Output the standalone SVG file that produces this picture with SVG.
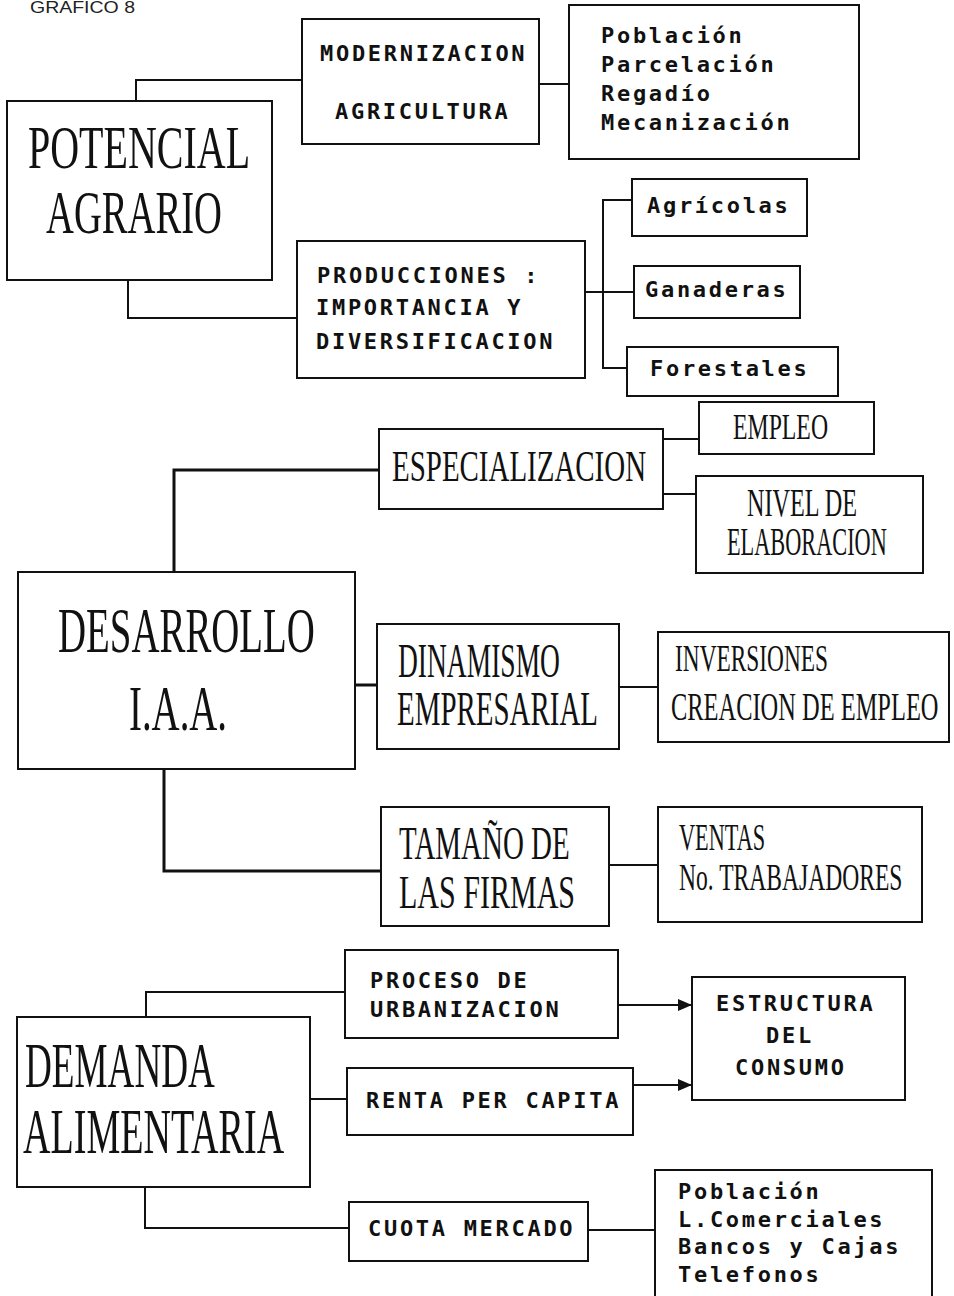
<svg xmlns="http://www.w3.org/2000/svg" width="954" height="1296" viewBox="0 0 954 1296">
<defs>
<style>
.bx{fill:#fff;stroke:#111;stroke-width:2}
.cn{fill:none;stroke:#111;stroke-width:2}
.thk{stroke-width:3}
.sf{font-family:"Liberation Serif","Times New Roman",serif;fill:#111}
.mo{font-family:"DejaVu Sans Mono","Liberation Mono",monospace;font-weight:bold;font-size:22px;letter-spacing:2.7px;fill:#111}
.hd{font-family:"Liberation Sans",Arial,sans-serif;font-size:16px;fill:#222}
</style>
<marker id="ah" markerWidth="14" markerHeight="12" refX="14" refY="6" orient="auto" markerUnits="userSpaceOnUse">
<path d="M0,0 L14,6 L0,12 Z" fill="#111"/>
</marker>
</defs>
<rect width="954" height="1296" fill="#fff"/>
<text class="hd" x="30" y="13" textLength="105" lengthAdjust="spacingAndGlyphs">GRAFICO 8</text>

<g id="connectors">
<path class="cn" d="M136,101 V80 H302"/>
<path class="cn" d="M539,84 H569"/>
<path class="cn" d="M128,280 V318 H297"/>
<path class="cn" d="M585,292 H634"/>
<path class="cn" d="M632,200 H603 V368 H627"/>
<path class="cn thk" d="M174,572 V470 H379"/>
<path class="cn" d="M663,439 H699"/>
<path class="cn" d="M663,494 H696"/>
<path class="cn thk" d="M355,685 H377"/>
<path class="cn" d="M619,687 H658"/>
<path class="cn thk" d="M164,769 V871 H381"/>
<path class="cn" d="M609,865 H658"/>
<path class="cn" d="M146,1017 V992 H345"/>
<path class="cn" d="M310,1099 H347"/>
<path class="cn" d="M145,1187 V1228 H349"/>
<path class="cn" d="M618,1005 H692" marker-end="url(#ah)"/>
<path class="cn" d="M633,1085 H692" marker-end="url(#ah)"/>
<path class="cn" d="M588,1230 H655"/>
</g>

<g id="potencial">
<rect class="bx" x="7" y="101" width="265" height="179"/>
<text class="sf" font-size="62" transform="translate(28,168) scale(0.645,1)">POTENCIAL</text>
<text class="sf" font-size="62" transform="translate(46,233) scale(0.623,1)">AGRARIO</text>
</g>
<g id="modernizacion">
<rect class="bx" x="302" y="19" width="237" height="125"/>
<text class="mo" x="320" y="61">MODERNIZACION</text>
<text class="mo" x="335" y="119">AGRICULTURA</text>
</g>
<g id="factores-agr">
<rect class="bx" x="569" y="5" width="290" height="154"/>
<text class="mo" x="601" y="43">Población</text>
<text class="mo" x="601" y="72">Parcelación</text>
<text class="mo" x="601" y="101">Regadío</text>
<text class="mo" x="601" y="130">Mecanización</text>
</g>
<g id="producciones">
<rect class="bx" x="297" y="241" width="288" height="137"/>
<text class="mo" x="317" y="283">PRODUCCIONES :</text>
<text class="mo" x="316" y="315">IMPORTANCIA Y</text>
<text class="mo" x="316" y="349">DIVERSIFICACION</text>
</g>
<g id="agricolas">
<rect class="bx" x="632" y="179" width="175" height="57"/>
<text class="mo" x="647" y="213">Agrícolas</text>
</g>
<g id="ganaderas">
<rect class="bx" x="634" y="266" width="166" height="52"/>
<text class="mo" x="645" y="297">Ganaderas</text>
</g>
<g id="forestales">
<rect class="bx" x="627" y="347" width="211" height="49"/>
<text class="mo" x="650" y="376">Forestales</text>
</g>

<g id="desarrollo">
<rect class="bx" x="18" y="572" width="337" height="197"/>
<text class="sf" font-size="63" transform="translate(58,652) scale(0.617,1)">DESARROLLO</text>
<text class="sf" font-size="63" transform="translate(129,730) scale(0.616,1)">I.A.A.</text>
</g>
<g id="especializacion">
<rect class="bx" x="379" y="429" width="284" height="80"/>
<text class="sf" font-size="44" transform="translate(392,481) scale(0.658,1)">ESPECIALIZACION</text>
</g>
<g id="empleo">
<rect class="bx" x="699" y="402" width="175" height="52"/>
<text class="sf" font-size="35" transform="translate(733,439) scale(0.679,1)">EMPLEO</text>
</g>
<g id="nivel">
<rect class="bx" x="696" y="476" width="227" height="97"/>
<text class="sf" font-size="39" transform="translate(747,516) scale(0.621,1)">NIVEL DE</text>
<text class="sf" font-size="39" transform="translate(727,555) scale(0.572,1)">ELABORACION</text>
</g>
<g id="dinamismo">
<rect class="bx" x="377" y="624" width="242" height="125"/>
<text class="sf" font-size="48" transform="translate(398,677) scale(0.573,1)">DINAMISMO</text>
<text class="sf" font-size="48" transform="translate(397,725) scale(0.603,1)">EMPRESARIAL</text>
</g>
<g id="inversiones">
<rect class="bx" x="658" y="632" width="291" height="110"/>
<text class="sf" font-size="39" transform="translate(675,671) scale(0.599,1)">INVERSIONES</text>
<text class="sf" font-size="39" transform="translate(671,720) scale(0.627,1)">CREACION DE EMPLEO</text>
</g>
<g id="tamano">
<rect class="bx" x="381" y="807" width="228" height="119"/>
<text class="sf" font-size="46" transform="translate(399,859) scale(0.63,1)">TAMAÑO DE</text>
<text class="sf" font-size="46" transform="translate(399,908) scale(0.653,1)">LAS FIRMAS</text>
</g>
<g id="ventas">
<rect class="bx" x="658" y="807" width="264" height="115"/>
<text class="sf" font-size="38" transform="translate(679,850) scale(0.587,1)">VENTAS</text>
<text class="sf" font-size="38" transform="translate(679,890) scale(0.62,1)">No. TRABAJADORES</text>
</g>

<g id="demanda">
<rect class="bx" x="17" y="1017" width="293" height="170"/>
<text class="sf" font-size="63" transform="translate(25,1087) scale(0.59,1)">DEMANDA</text>
<text class="sf" font-size="63" transform="translate(23,1153) scale(0.604,1)">ALIMENTARIA</text>
</g>
<g id="proceso">
<rect class="bx" x="345" y="950" width="273" height="88"/>
<text class="mo" x="370" y="988">PROCESO DE</text>
<text class="mo" x="370" y="1017">URBANIZACION</text>
</g>
<g id="renta">
<rect class="bx" x="347" y="1068" width="286" height="67"/>
<text class="mo" x="366" y="1108">RENTA PER CAPITA</text>
</g>
<g id="cuota">
<rect class="bx" x="349" y="1202" width="239" height="59"/>
<text class="mo" x="368" y="1236">CUOTA MERCADO</text>
</g>
<g id="estructura">
<rect class="bx" x="692" y="977" width="213" height="123"/>
<text class="mo" x="716" y="1011">ESTRUCTURA</text>
<text class="mo" x="766" y="1043">DEL</text>
<text class="mo" x="735" y="1075">CONSUMO</text>
</g>
<g id="factores-mercado">
<rect class="bx" x="655" y="1170" width="277" height="140"/>
<text class="mo" x="678" y="1199">Población</text>
<text class="mo" x="678" y="1227">L.Comerciales</text>
<text class="mo" x="678" y="1254">Bancos y Cajas</text>
<text class="mo" x="678" y="1282">Telefonos</text>
</g>
</svg>
